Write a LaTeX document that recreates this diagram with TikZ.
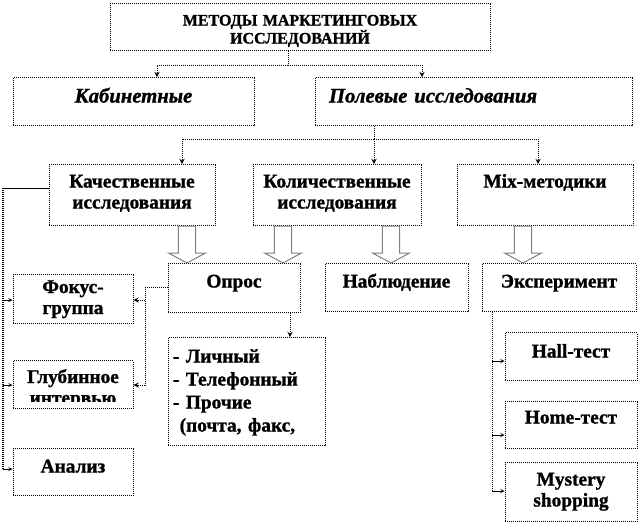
\documentclass[tikz,border=0pt]{standalone}
\usepackage{fontspec}
\setmainfont{Liberation Serif}[BoldFeatures={FakeBold=1.2}, BoldItalicFeatures={FakeBold=1.2}]
\usetikzlibrary{calc}
\newcommand\bigarrow[3]{%
  \draw[blockarr] let \p1=(#1,0 |- #2.south), \p2=(#1,0 |- #3.north) in
    (\x1-6.4pt,\y1) -- (\x1-6.4pt,\y2+7.5pt) -- (\x1-13.9pt,\y2+7.5pt) -- (\x2,\y2)
    -- (\x1+13.9pt,\y2+7.5pt) -- (\x1+6.4pt,\y2+7.5pt) -- (\x1+6.4pt,\y1) -- cycle;}
\tikzset{
	box/.style={draw, dash pattern=on 0.75pt off 0.75pt, line width=0.75pt, inner sep=0pt,
		anchor=north, align=center, font=\bfseries\fontsize{14.5}{15.75}\selectfont},
	titlebox/.style={box, font=\bfseries\fontsize{12}{13.5}\selectfont},
	itbox/.style={box, font=\bfseries\itshape\fontsize{15.5}{18}\selectfont},
	txt/.style={inner sep=0pt, align=center, anchor=base, font=\bfseries\fontsize{14.5}{15.75}\selectfont},
	conn/.style={dash pattern=on 0.75pt off 0.75pt, line width=0.75pt},
	blockarr/.style={draw=gray, fill=white, line width=0.75pt},
	>=stealth,
	}
\begin{document}
\begin{tikzpicture}[x=0.75pt,y=-0.75pt]
\useasboundingbox (0,0) rectangle (640,526);

\node[titlebox, text width=285pt, text height=16.5pt, text depth=18.75pt] (top) at (300,3)
  {МЕТОДЫ МАРКЕТИНГОВЫХ\\ИССЛЕДОВАНИЙ};
\node[itbox, text width=180.75pt, text height=18.75pt, text depth=17.25pt] (kab) at (133.5,77) {Кабинетные};
\node[itbox, align=left, inner xsep=10.5pt, text width=216.75pt, text height=18.75pt, text depth=17.25pt]
  (pol) at (473.5,77) {Полевые исследования};

\node[box, text width=124.5pt, text height=17.25pt, text depth=28.5pt] (kach) at (132,164) {Качественные\\исследования};
\node[box, text width=126pt, text height=17.25pt, text depth=28.5pt] (kol) at (337,164) {Количественные\\исследования};
\node[box, text width=132pt, text height=17.25pt, text depth=28.5pt] (mix) at (545,164) {Mix-методики};

\node[box, text width=99pt, text height=18pt, text depth=18.75pt] (opros) at (234,263) {Опрос};
\node[box, text width=107.25pt, text height=18pt, text depth=18pt] (nabl) at (396.5,263) {Наблюдение};
\node[box, text width=115.5pt, text height=18pt, text depth=18pt] (exp) at (559,263) {Эксперимент};

\node[box, text width=90pt, text height=14.25pt, text depth=22.5pt] (fokus) at (73,274) {};
\node[box, text width=90pt, text height=17.25pt, text depth=18.75pt] (glub) at (73,360) {};
\node[box, text width=90pt, text height=18pt, text depth=17.25pt] (analiz) at (73,448) {Анализ};
\begin{scope}
  \clip (fokus.north west) rectangle ([yshift=3.75pt]fokus.south east);
  \node[txt, text width=90pt] (fokus-t) at ([yshift=-14.25pt]fokus.north) {Фокус-\\группа};
\end{scope}
\begin{scope}
  \clip (glub.north west) rectangle ([yshift=6pt]glub.south east);
  \node[txt, text width=90pt] (glub-t) at ([yshift=-17.25pt]glub.north) {Глубинное\\интервью};
\end{scope}

\node[box, align=left, inner xsep=3.75pt, text width=110.25pt, text height=18.75pt, text depth=62.25pt,
  font=\bfseries\fontsize{14.5}{17.25}\selectfont] (list) at (246.5,337)
  {- Личный\\- Телефонный\\- Прочие\\\hspace*{5pt}(почта, факс,};

\node[box, text width=99pt, text height=18.75pt, text depth=17.25pt] (hall) at (571,332) {Hall-тест};
\node[box, text width=99pt, text height=16.5pt, text depth=18.75pt] (home) at (571,401) {Home-тест};
\node[box, text width=99pt, text height=17.25pt, text depth=27pt] (myst) at (571,462) {Mystery\\shopping};

% top level
\draw[conn] (288,0 |- top.south) -- (288,65) coordinate (j1);
\draw[conn,->] (j1) -| (157,0 |- kab.north);
\draw[conn,->] (j1) -| (422,0 |- pol.north);

% field research
\draw[conn] (374,0 |- pol.south) -- (374,139) coordinate (j2);
\draw[conn,->] (j2) -| (182,0 |- kach.north);
\draw[conn,->] (j2) -- (374,0 |- kol.north);
\draw[conn,->] (j2) -| (538,0 |- mix.north);

% qualitative
\draw (kach.west |- 0,188) -- (3,188) coordinate (j3);
\draw[conn, line width=1.2pt] (j3) -- (3,469);
\foreach \b/\y in {fokus/300, glub/385, analiz/469}
  \draw[->] (3,\y) -- (\b.west |- 0,\y);

% survey
\draw[conn] (opros.west |- 0,287) -- (145,287) -- (145,385);
\foreach \b/\y in {fokus/300, glub/385}
  \draw[conn,->] (145,\y) -- (\b.east |- 0,\y);
\draw[conn,->] (290,0 |- opros.south) -- (290,0 |- list.north);

% experiment
\draw[conn] (492,0 |- exp.south) -- (492,491);
\foreach \b/\y in {hall/361, home/435, myst/491}
  \draw[->] (492,\y) -- (\b.west |- 0,\y);

\bigarrow{187}{kach}{opros}
\bigarrow{283}{kol}{opros}
\bigarrow{391}{kol}{nabl}
\bigarrow{523}{mix}{exp}
\end{tikzpicture}
\end{document}
